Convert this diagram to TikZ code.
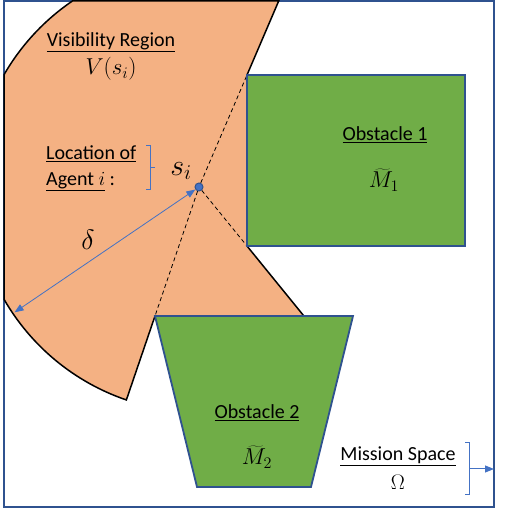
\RequirePackage{fix-cm}
\documentclass[tikz,border=0pt]{standalone}
\usepackage{fontspec}
\setmainfont{Carlito}
\usetikzlibrary{calc,arrows.meta}
\definecolor{visorange}{RGB}{244,177,131}
\definecolor{obsgreen}{RGB}{112,173,71}
\definecolor{edgeblue}{RGB}{47,82,143}
\definecolor{arrowblue}{RGB}{68,114,196}
\tikzset{
	obstacle/.style={fill=obsgreen,draw=edgeblue,line width=1.8pt},
	lbl/.style={font=\fontsize{20}{26}\selectfont,inner sep=0pt},
	mathlbl/.style={font=\fontsize{23}{28}\selectfont,inner sep=0pt},
	sightline/.style={line width=0.8pt,dash pattern=on 4pt off 3pt},
	bracketline/.style={draw=arrowblue,line width=1pt},
	tip/.style={-{Triangle[length=9pt,width=7pt]}},
}

\begin{document}
\begin{tikzpicture}[x=1pt,y=1pt]
				\useasboundingbox (0,0) rectangle (508,509);
				\draw[edgeblue,line width=2pt] (4,2) rectangle (494,508);
				\coordinate (C) at (199,322);
				\coordinate (A) at (247,434);
				\coordinate (B) at (247,263);
				\coordinate (D) at (155,193);
				\filldraw[fill=visorange,draw=black,line width=1.5pt] (A) -- (278.7,508) -- (72.4,508) arc[start angle=124.24,end angle=150.07,radius=225] -- (4,209.75) arc[start angle=209.93,end angle=251.17,radius=225] -- (D) -- (303.9,193) -- (B) -- cycle;
				\node[circle,fill=arrowblue,draw=edgeblue,line width=1pt,minimum size=8pt,inner sep=0pt] (s) at (C) {};
				\foreach \p in {A,B,D} {
					\draw[sightline] (s) -- (\p);
				}
				\draw[obstacle] (A) rectangle (465,263);
				\draw[obstacle] (D) -- (353,193) -- (311,22) -- (197,22) -- cycle;
				\coordinate (d) at ($(C)+(214.2:223)$);
				\draw[arrowblue,line width=0.8pt,{Triangle[length=9pt,width=7pt]}-{Triangle[length=9pt,width=7pt]}] (d) -- (s);
				\node[lbl] (vistext) at (111,467) {\underline{Visibility Region}};
				\node[mathlbl] (vismath) at (111,440) {$V(s_i)$};
				\node[lbl,anchor=west,align=left] (loc) at (46,341) {\underline{Location of}\\\underline{Agent $i$} :};
				\draw[bracketline] (146,363) -- (150,363) -- (150,319) -- (146,319) (150,341) -- (155,341);
				\node[font=\fontsize{30}{34}\selectfont,inner sep=0pt] (slabel) at (181,338) {$s_i$};
				\node[font=\fontsize{28}{32}\selectfont,inner sep=0pt] (delta) at (88,269) {$\delta$};
				\node[lbl] (obs1) at (385,374) {\underline{Obstacle 1}};
				\node[mathlbl] (m1) at (384,329) {$\widetilde{M}_1$};
				\node[lbl] (obs2) at (257,96) {\underline{Obstacle 2}};
				\node[mathlbl] (m2) at (257,52) {$\widetilde{M}_2$};
				\node[lbl] (space) at (398,53) {\underline{Mission Space}};
				\node[mathlbl,font=\fontsize{21}{26}\selectfont] (omega) at (398,27) {$\Omega$};
				\coordinate (wall) at (494,40);
				\draw[bracketline] (465,66) -- (469,66) -- (469,14) -- (465,14);
				\draw[arrowblue,line width=1pt,tip] (469,40) -- (wall);
			\end{tikzpicture}
\end{document}
